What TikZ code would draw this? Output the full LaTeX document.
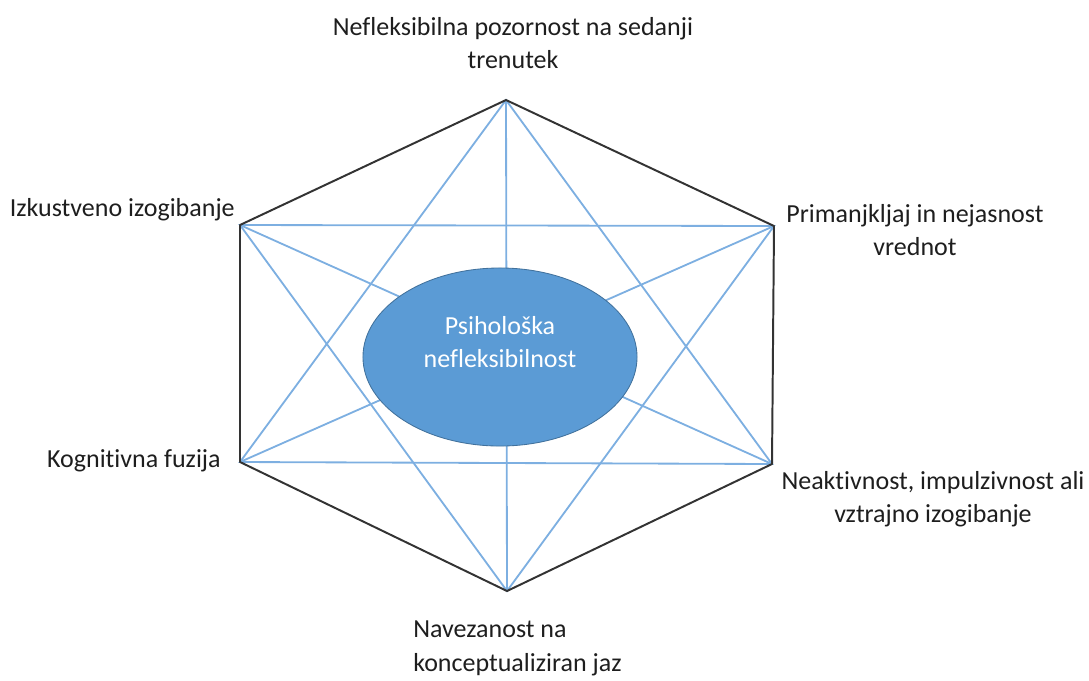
\documentclass[tikz,border=0pt]{standalone}
\usepackage{fontspec}
\setmainfont[Ligatures=NoCommon]{Carlito}
\usepackage{tikz}
\usetikzlibrary{shapes.geometric}

\definecolor{diagline}{RGB}{125,175,225}
\definecolor{corefill}{RGB}{91,155,213}
\definecolor{coreedge}{RGB}{65,113,156}
\definecolor{labeltext}{RGB}{30,30,30}

\begin{document}
\begin{tikzpicture}[
        x=0.025cm,y=-0.025cm,
        edge/.style={draw=black!80,line width=1.4pt,line join=round},
        diag/.style={draw=diagline,line width=1.3pt},
        core/.style={ellipse,draw=coreedge,line width=0.6pt,fill=corefill,minimum width=6.85cm,minimum height=4.45cm},
        coretext/.style={text=white,align=center,font=\fontsize{18.5}{23.5}\selectfont},
        label/.style={text=labeltext,align=center,inner sep=0pt,font=\fontsize{18.5}{23.5}\selectfont}
    ]
    \useasboundingbox (0,0) rectangle (1089,680);

    \coordinate (top) at (506,100);
    \coordinate (upright) at (774,226);
    \coordinate (lowright) at (772,464);
    \coordinate (bottom) at (507,591);
    \coordinate (lowleft) at (240,462);
    \coordinate (upleft) at (240,225);

    % diagonals
    \draw[diag] (top) -- (bottom);
    \draw[diag] (upleft) -- (lowright);
    \draw[diag] (upright) -- (lowleft);
    \draw[diag] (top) -- (lowleft) -- (lowright) -- cycle;
    \draw[diag] (bottom) -- (upleft) -- (upright) -- cycle;

    % outline
    \draw[edge] (top) -- (upright) -- (lowright) -- (bottom) -- (lowleft) -- (upleft) -- cycle;

    \node[core] (core) at (500,357) {};
    \node[coretext] (coretext) at (500,342) {Psihološka\\nefleksibilnost};

    \node[label] (present) at (513,43) {Nefleksibilna pozornost na sedanji\\trenutek};
    \node[label] (values) at (915,230) {Primanjkljaj in nejasnost\\vrednot};
    \node[label] (action) at (933,499) {Neaktivnost, impulzivnost ali\\vztrajno izogibanje};
    \node[label,align=left,anchor=north west] (self) at (413,621) {Navezanost na\\konceptualiziran jaz};
    \node[label,anchor=east] (fusion) at (221,461) {Kognitivna fuzija};
    \node[label,anchor=east] (avoid) at (235,210) {Izkustveno izogibanje};
\end{tikzpicture}
\end{document}
